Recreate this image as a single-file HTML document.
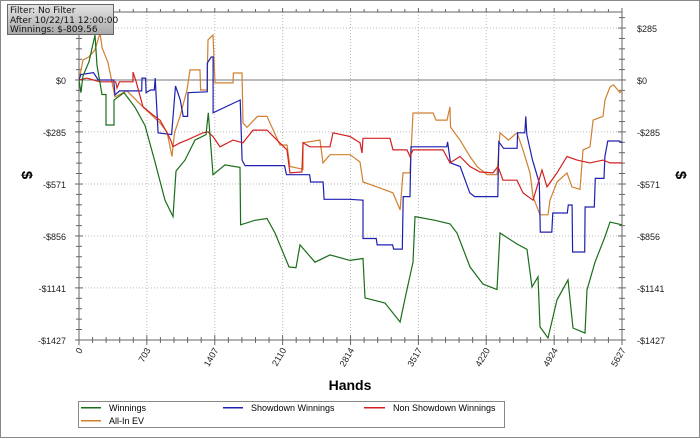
<!DOCTYPE html>
<html><head><meta charset="utf-8"><style>
body{margin:0;background:#fff;}
svg{display:block;}
svg text{font-family:"Liberation Sans",Arial,sans-serif;}
</style></head><body>
<svg id="chart" width="700" height="439" viewBox="0 0 700 439">
<defs><linearGradient id="bg" x1="0" y1="0" x2="0" y2="1"><stop offset="0" stop-color="#e4e4e4"/><stop offset="1" stop-color="#a8a8a8"/></linearGradient></defs>
<rect x="0.5" y="0.5" width="699" height="437" fill="#fff" stroke="#888"/>
<g id="grid"></g><g id="axes"></g><g id="series"></g>
<g>
<rect x="7.5" y="4.5" width="106" height="30" fill="url(#bg)" stroke="#666"/>
<text x="10" y="13" font-size="9" style="font-family:'DejaVu Sans',sans-serif" fill="#111">Filter: No Filter</text>
<text x="10" y="23" font-size="9" style="font-family:'DejaVu Sans',sans-serif" fill="#111">After 10/22/11 12:00:00</text>
<text x="10" y="32" font-size="9" style="font-family:'DejaVu Sans',sans-serif" fill="#111">Winnings: $-809.56</text>
</g>
<text x="350" y="390" font-size="14" font-weight="bold" text-anchor="middle">Hands</text>
<text transform="translate(22,175) rotate(90)" font-size="15" font-weight="bold" text-anchor="middle">$</text>
<text transform="translate(676,175) rotate(90)" font-size="15" font-weight="bold" text-anchor="middle">$</text>
<g>
<rect x="78.5" y="401.5" width="426" height="26" fill="#fff" stroke="#888"/>
<g><rect x="81" y="407" width="20" height="1.5" fill="#1a6e1a"/><text x="109" y="411" font-size="9">Winnings</text></g>
<g><rect x="223" y="407" width="20" height="1.5" fill="#2020b0"/><text x="251" y="411" font-size="9">Showdown Winnings</text></g>
<g><rect x="364" y="407" width="21" height="1.5" fill="#d42020"/><text x="393" y="411" font-size="9">Non Showdown Winnings</text></g>
<g><rect x="81" y="420" width="20" height="1.5" fill="#d08030"/><text x="109" y="424" font-size="9">All-In EV</text></g>
</g>
</svg>
<script>
const xTicks=[0,703,1407,2110,2814,3517,4220,4924,5627];
const yTicks=[285,0,-285,-571,-856,-1141,-1427];
const winHands=[0,20,40,104,166,187,238,280,280,363,363,466,580,684,788,891,974,1005,1098,1202,1316,1340,1389,1513,1668,1675,1824,1948,2031,2176,2249,2290,2446,2601,2808,2943,2964,3171,3327,3378,3461,3482,3689,3845,3917,4052,4187,4332,4363,4539,4643,4694,4757,4777,4860,4953,5067,5119,5244,5264,5347,5451,5503,5627];
const winVals=[0,-70,20,100,247,80,-80,-80,-247,-247,-110,-70,-150,-250,-450,-660,-750,-500,-440,-330,-300,-180,-520,-466,-480,-795,-770,-760,-840,-1026,-1030,-905,-1000,-960,-990,-980,-1196,-1224,-1328,-1200,-1000,-750,-770,-790,-840,-1026,-1120,-1150,-840,-900,-930,-1136,-1080,-1355,-1416,-1207,-1097,-1361,-1389,-1152,-1000,-860,-780,-795];
const sdHands=[0,20,150,200,360,373,420,650,653,690,695,740,780,790,820,960,1000,1050,1080,1125,1130,1330,1330,1370,1390,1390,1670,1690,1720,2130,2150,2390,2400,2530,2540,2800,2943,2943,3080,3090,3250,3260,3350,3360,3430,3440,3810,3820,3850,3950,4050,4100,4340,4350,4400,4540,4545,4620,4630,4640,4700,4770,4780,4900,4910,5060,5070,5110,5115,5240,5245,5340,5350,5440,5450,5480,5600,5627];
const sdVals=[0,30,40,0,0,-82,-60,-60,10,10,-70,-55,-55,10,-290,-300,-33,-110,-200,-200,-70,-65,93,126,126,-180,-110,-440,-470,-470,-520,-520,-560,-560,-655,-655,-660,-870,-870,-905,-905,-928,-928,-640,-640,-367,-367,-340,-455,-475,-620,-640,-640,-340,-375,-375,-290,-290,-200,-300,-440,-565,-835,-835,-730,-730,-686,-686,-944,-944,-697,-697,-540,-540,-420,-335,-335,-345];
const nsdHands=[0,83,150,218,380,394,420,560,560,590,663,767,839,912,950,974,1047,1119,1200,1285,1337,1389,1461,1596,1700,1803,1948,2052,2155,2186,2310,2321,2394,2601,2632,2808,2912,2933,2943,3223,3254,3399,3430,3461,3772,3845,3948,4052,4156,4290,4342,4394,4539,4601,4705,4746,4798,4850,4953,5057,5161,5295,5430,5503,5627];
const nsdVals=[0,10,0,-10,-10,-44,-10,-10,44,-5,-148,-192,-220,-290,-330,-367,-345,-330,-310,-290,-285,-310,-367,-330,-345,-275,-275,-330,-384,-510,-505,-345,-367,-367,-290,-310,-345,-400,-320,-320,-384,-384,-420,-384,-384,-455,-420,-475,-505,-510,-475,-550,-550,-620,-660,-587,-494,-587,-510,-420,-440,-455,-440,-455,-455];
const evHands=[0,41,100,166,218,240,301,373,497,663,839,912,964,990,1047,1119,1150,1254,1260,1326,1337,1389,1409,1596,1600,1689,1700,1741,1850,1948,2083,2155,2186,2321,2321,2497,2529,2601,2808,2912,2943,3088,3254,3327,3358,3430,3461,3669,3700,3814,3845,3850,3948,4052,4124,4228,4332,4363,4450,4539,4601,4674,4705,4777,4860,4881,4953,5057,5109,5192,5223,5295,5327,5430,5451,5503,5540,5606,5627];
const evVals=[0,110,125,165,258,175,95,-93,-60,-148,-236,-285,-420,-290,-200,-55,55,55,-55,-55,220,247,-16,-16,38,38,-236,-260,-200,-200,-357,-357,-475,-490,-345,-330,-455,-410,-410,-450,-560,-587,-620,-713,-510,-510,-181,-181,-220,-220,-148,-258,-330,-420,-475,-520,-520,-290,-330,-290,-384,-510,-640,-740,-740,-660,-560,-510,-587,-600,-384,-367,-220,-200,-110,-38,-27,-70,-55];

const X0=79,X1=622,Y0=12,Y1=340,YMAX=373,YMIN=-1427,HMAX=5627;
const sx=h=>X0+(h/HMAX)*(X1-X0);
const sy=v=>Y0+(YMAX-v)/(YMAX-YMIN)*(Y1-Y0);
const NS='http://www.w3.org/2000/svg';
function mk(tag,attrs,parent){const e=document.createElementNS(NS,tag);for(const k in attrs)e.setAttribute(k,attrs[k]);parent.appendChild(e);return e;}
const grid=document.getElementById('grid'),axes=document.getElementById('axes'),ser=document.getElementById('series');
xTicks.forEach((t,i)=>{const x=sx(t);
 if(i>0&&i<xTicks.length-1){const g=mk('line',{x1:x,y1:Y0,x2:x,y2:Y1,stroke:'#bbb','stroke-dasharray':'1,2'},grid);
 
 }
 mk('line',{x1:x,y1:Y1-5,x2:x,y2:Y1+5,stroke:'#666'},axes);
 mk('line',{x1:x,y1:Y0,x2:x,y2:Y0-4,stroke:'#666'},axes);
 const tx=mk('text',{transform:`translate(${x+4},${Y1+10}) rotate(-60)`,'font-size':9,'text-anchor':'end',fill:'#222'},axes);
 tx.textContent=t;
 
 
 if(i<xTicks.length-1){for(let k=1;k<5;k++){const mx=sx(t+(xTicks[i+1]-t)*k/5);mk('line',{x1:mx,y1:Y1-3,x2:mx,y2:Y1+3,stroke:'#666'},axes);mk('line',{x1:mx,y1:Y0,x2:mx,y2:Y0-3,stroke:'#666'},axes);}}
});
yTicks.forEach((t,i)=>{const y=sy(t);
 const g=mk('line',{x1:X0,y1:y,x2:X1,y2:y,stroke:t===0?'#777':'#bbb','stroke-dasharray':t===0?'none':'1,2'},grid);
 
 
 [X0,X1].forEach(ax=>mk('line',{x1:ax-4,y1:y,x2:ax+4,y2:y,stroke:'#666'},axes));
 const lab=t<0?'-$'+(-t):'$'+t;
 const l1=mk('text',{x:X0-13,y:y+4,'font-size':9,'text-anchor':'end',fill:'#222'},axes);l1.textContent=lab;
 
 
 const l2=mk('text',{x:X1+15,y:y+4,'font-size':9,'text-anchor':'start',fill:'#222'},axes);l2.textContent=lab;
 
 
 for(let k=1;k<5;k++){const v=t-(285.4*k/5);if(v<YMIN)break;const my=sy(v);[X0,X1].forEach(ax=>mk('line',{x1:ax-3,y1:my,x2:ax+3,y2:my,stroke:'#666'},axes));}
 if(i===0){const my=sy(t+57);[X0,X1].forEach(ax=>mk('line',{x1:ax-3,y1:my,x2:ax+3,y2:my,stroke:'#666'},axes));}
});
mk('line',{x1:X0,y1:Y0,x2:X0,y2:Y1,stroke:'#666'},axes);
mk('line',{x1:X1,y1:Y0,x2:X1,y2:Y1,stroke:'#666'},axes);
mk('line',{x1:X0,y1:Y1,x2:X1,y2:Y1,stroke:'#666'},axes);
mk('line',{x1:X0,y1:Y0,x2:X1,y2:Y0,stroke:'#666'},axes);
function draw(hands,vals,color,name){const pts=hands.map((h,i)=>sx(h).toFixed(1)+','+sy(vals[i]).toFixed(1)).join(' ');
 const p=mk('polyline',{points:pts,fill:'none',stroke:color,'stroke-width':1.2,'stroke-linejoin':'miter'},ser);
 
 }
draw(evHands,evVals,'#d08030','series-all-in-ev');
draw(sdHands,sdVals,'#2020b0','series-showdown-winnings');
draw(nsdHands,nsdVals,'#d42020','series-non-showdown-winnings');
draw(winHands,winVals,'#1a6e1a','series-winnings');
</script>
</body></html>
